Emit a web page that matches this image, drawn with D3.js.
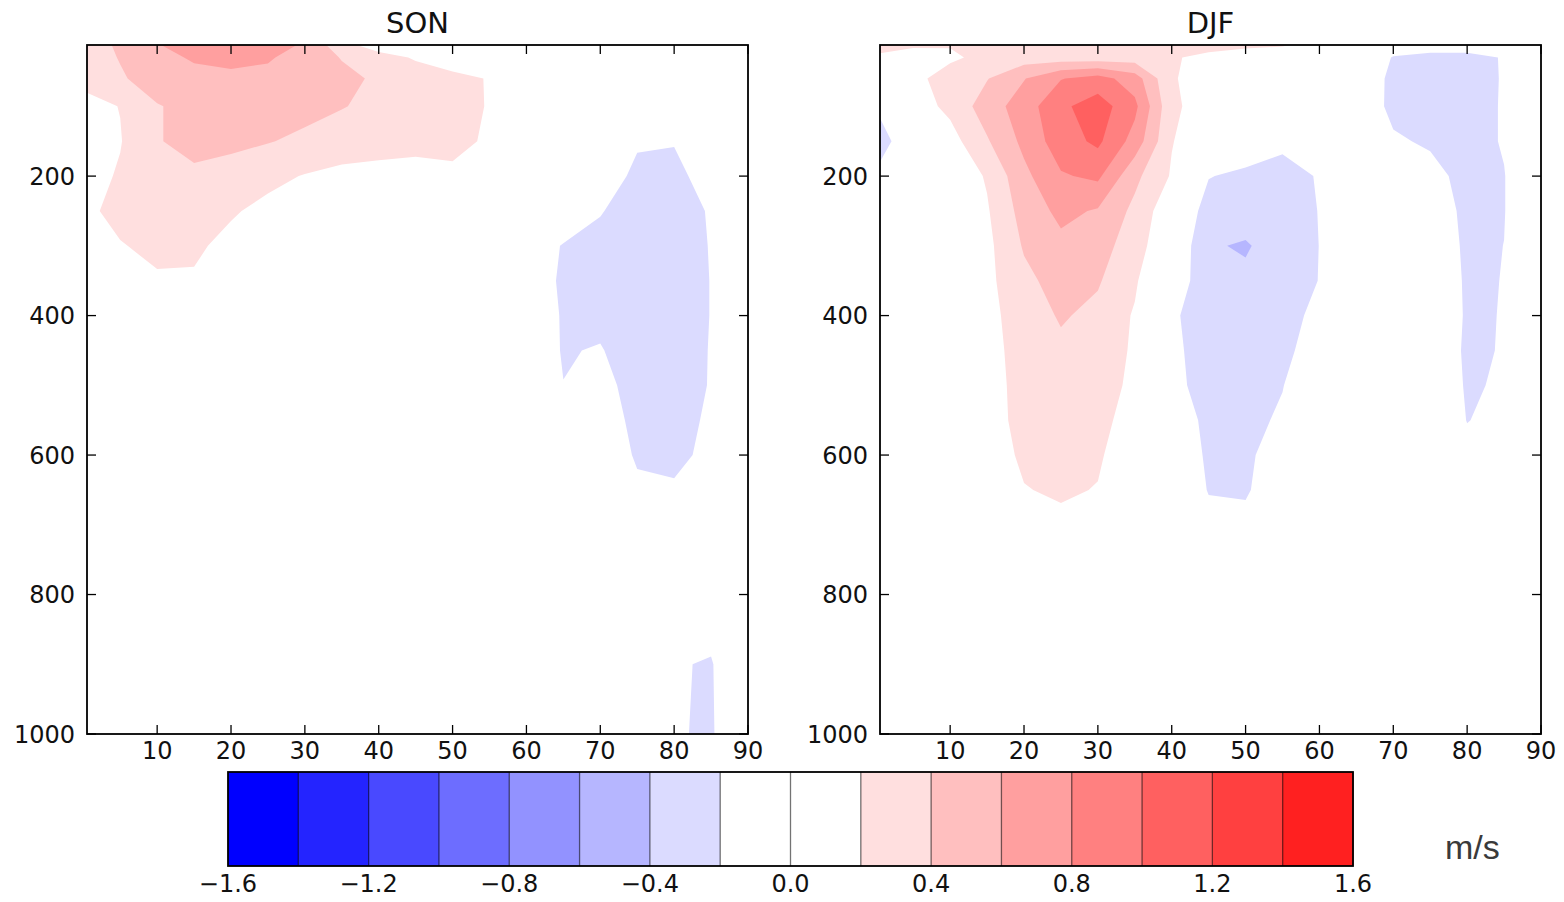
<!DOCTYPE html>
<html>
<head>
<meta charset="utf-8">
<script src="https://cdn.jsdelivr.net/npm/d3@7"></script>
<style>
  body { margin: 0; background: #ffffff; }
  svg { display: block; }
</style>
</head>
<body>
<svg id="chart" width="1564" height="902"></svg>
<script>
// ---------------- DATA ----------------
const latitudes = [0,5,10,15,20,25,30,35,40,45,50,55,60,65,70,75,80,85,90];
const pressureLevels = [12,30,60,100,150,200,250,300,350,400,450,500,550,600,650,700,800,900,1000];
const contourLevels = [-1.6,-1.4,-1.2,-1.0,-0.8,-0.6,-0.4,-0.2,0.0,0.2,0.4,0.6,0.8,1.0,1.2,1.4,1.6];
const xTickValues = [10,20,30,40,50,60,70,80,90];
const yTickValues = [200,400,600,800,1000];
const colorbarTicks = [-1.6,-1.2,-0.8,-0.4,0.0,0.4,0.8,1.2,1.6];
const panelTitles = ["SON", "DJF"];
const unitLabel = "m/s";

// rows = pressure levels (top to bottom), columns = latitudes 0..90
const sonWind = [
  [0.30,0.43,0.59,0.68,0.72,0.67,0.58,0.27,0.10,0.05,0.02,0,0,0,0,0,0,0,0],
  [0.30,0.41,0.52,0.63,0.66,0.62,0.52,0.39,0.28,0.18,0.10,0.05,0,0,0,0,0,0,0],
  [0.25,0.38,0.48,0.52,0.55,0.55,0.52,0.45,0.37,0.30,0.25,0.19,0.10,0.05,0,0,0,0,0],
  [0.14,0.205,0.39,0.45,0.48,0.48,0.46,0.41,0.35,0.30,0.26,0.19,0.08,0,-0.03,-0.05,-0.05,-0.02,0],
  [0.10,0.19,0.39,0.45,0.44,0.41,0.36,0.30,0.26,0.24,0.24,0.18,0.05,0,-0.05,-0.18,-0.19,-0.05,0],
  [0.12,0.22,0.33,0.37,0.33,0.25,0.19,0.15,0.15,0.15,0.17,0.12,0.05,-0.02,-0.10,-0.24,-0.25,-0.12,-0.02],
  [0.16,0.25,0.28,0.27,0.22,0.15,0.10,0.08,0.06,0.05,0.05,0.04,0,-0.08,-0.19,-0.28,-0.30,-0.18,-0.05],
  [0.12,0.19,0.24,0.23,0.15,0.08,0.05,0.03,0.02,0,0,-0.03,-0.10,-0.21,-0.25,-0.30,-0.30,-0.19,-0.05],
  [0.08,0.12,0.18,0.18,0.10,0.05,0.02,0,0,0,0,-0.03,-0.12,-0.22,-0.26,-0.30,-0.30,-0.195,-0.05],
  [0,0.03,0.10,0.08,0.03,0,0,0,0,0,0,-0.03,-0.12,-0.21,-0.24,-0.30,-0.30,-0.195,-0.05],
  [0,0,0,0,0,0,0,0,0,0,0,-0.03,-0.10,-0.21,-0.19,-0.28,-0.30,-0.19,-0.05],
  [0,0,0,0,0,0,0,0,0,0,0,-0.02,-0.08,-0.198,-0.15,-0.26,-0.28,-0.19,-0.05],
  [0,0,0,0,0,0,0,0,0,0,0,0,-0.03,-0.10,-0.10,-0.25,-0.27,-0.17,-0.04],
  [0,0,0,0,0,0,0,0,0,0,0,0,0,-0.05,-0.08,-0.22,-0.24,-0.16,-0.04],
  [0,0,0,0,0,0,0,0,0,0,0,0,0,0,-0.05,-0.17,-0.18,-0.10,-0.03],
  [0,0,0,0,0,0,0,0,0,0,0,0,0,0,0,-0.08,-0.10,-0.10,-0.03],
  [0,0,0,0,0,0,0,0,0,0,0,0,0,0,0,-0.03,-0.08,-0.12,-0.03],
  [0,0,0,0,0,0,0,0,0,0,0,0,0,0,0,-0.05,-0.19,-0.21,-0.05],
  [0,0,0,0,0,0,0,0,0,0,0,0,0,0,0,-0.05,-0.19,-0.215,-0.05]
];

const djfWind = [
  [0.25,0.23,0.21,0.25,0.30,0.33,0.34,0.33,0.30,0.27,0.24,0.22,0.12,0.02,-0.12,-0.12,-0.12,-0.08,0],
  [0.18,0.10,0.17,0.25,0.30,0.30,0.30,0.30,0.22,0.15,0.10,0.05,0,-0.05,-0.21,-0.25,-0.25,-0.19,-0.05],
  [0.05,0.15,0.28,0.39,0.59,0.79,0.88,0.70,0.21,0.15,0.08,0.03,0,-0.07,-0.24,-0.26,-0.26,-0.19,-0.05],
  [-0.19,0.10,0.25,0.50,0.70,0.96,1.10,0.85,0.24,0.10,0.05,0,0,-0.08,-0.24,-0.25,-0.25,-0.19,-0.05],
  [-0.27,-0.10,0.12,0.38,0.65,0.91,1.04,0.72,0.21,0.05,-0.05,-0.17,-0.12,-0.05,-0.18,-0.22,-0.25,-0.19,-0.05],
  [-0.18,-0.05,0.05,0.22,0.55,0.78,0.84,0.45,0.18,-0.19,-0.25,-0.25,-0.19,-0.05,-0.08,-0.15,-0.25,-0.205,-0.05],
  [-0.05,0,0.05,0.18,0.48,0.65,0.58,0.35,0.05,-0.30,-0.30,-0.28,-0.195,-0.05,-0.03,-0.10,-0.24,-0.205,-0.05],
  [0,0,0.02,0.15,0.42,0.55,0.48,0.30,0.0,-0.38,-0.42,-0.30,-0.198,-0.05,-0.02,-0.08,-0.23,-0.199,-0.05],
  [0,0,0.02,0.15,0.35,0.48,0.42,0.23,-0.10,-0.30,-0.36,-0.30,-0.195,-0.05,0,-0.08,-0.22,-0.197,-0.05],
  [0,0,0.02,0.14,0.30,0.42,0.35,0.18,-0.17,-0.30,-0.30,-0.27,-0.15,-0.03,0,-0.05,-0.22,-0.195,-0.05],
  [0,0,0.02,0.13,0.28,0.36,0.32,0.17,-0.16,-0.28,-0.28,-0.25,-0.10,-0.02,0,-0.05,-0.23,-0.19,-0.05],
  [0,0,0.02,0.12,0.27,0.33,0.30,0.15,-0.15,-0.27,-0.26,-0.205,-0.08,-0.02,0,-0.04,-0.22,-0.18,-0.05],
  [0,0,0.02,0.12,0.26,0.30,0.27,0.10,-0.10,-0.24,-0.24,-0.18,-0.05,0,0,-0.03,-0.205,-0.15,-0.04],
  [0,0,0.01,0.08,0.24,0.28,0.23,0.05,-0.05,-0.23,-0.23,-0.12,-0.03,0,0,0,-0.15,-0.10,-0.03],
  [0,0,0,0.05,0.19,0.23,0.19,0.02,-0.02,-0.21,-0.22,-0.08,0,0,0,0,-0.10,-0.05,-0.02],
  [0,0,0,0.03,0.10,0.15,0.10,0,0,-0.14,-0.15,-0.04,0,0,0,0,-0.05,-0.03,0],
  [0,0,0,0,0.05,0.06,0.04,0,0,-0.06,-0.05,0,0,0,0,0,0,0,0],
  [0,0,0,0,0,0,0,0,0,0,0,0,0,0,0,0,0,0,0],
  [0,0,0,0,0,0,0,0,0,0,0,0,0,0,0,0,0,0,0]
];

// ---------------- STYLE / LAYOUT ----------------
const axisFont = "'DejaVu Sans', sans-serif";
const plotTop = 45, plotBottom = 734;
const latDomain = [0.5, 90];
const panels = [
  { title: panelTitles[0], values: sonWind, x0: 87, x1: 748 },
  { title: panelTitles[1], values: djfWind, x0: 880, x1: 1541 }
];
const tickLen = 9;

function bandColor(k) {
  if (k <= 6) { const v = Math.round(255 * k / 7); return `rgb(${v},${v},255)`; }
  if (k <= 8) return "#ffffff";
  const j = k - 9; const v = Math.round(255 * (7 - j) / 8); return `rgb(255,${v},${v})`;
}
const fmt = v => (v < 0 ? "\u2212" : "") + Math.abs(v).toFixed(1);

const svg = d3.select("#chart");
svg.append("rect").attr("width", 1564).attr("height", 902).attr("fill", "#fff");
const defs = svg.append("defs");

const nx = latitudes.length, ny = pressureLevels.length;
const contourGen = d3.contours().size([nx, ny]).thresholds(contourLevels.slice(0, -1));
const latOf = d3.scaleLinear().domain(d3.range(nx)).range(latitudes);
const presOf = d3.scaleLinear().domain(d3.range(ny)).range(pressureLevels);

panels.forEach((p, pi) => {
  const x = d3.scaleLinear().domain(latDomain).range([p.x0, p.x1]);
  const y = d3.scaleLinear().domain([12, 1000]).range([plotTop, plotBottom]);

  defs.append("clipPath").attr("id", "clip" + pi)
    .append("rect").attr("x", p.x0).attr("y", plotTop)
    .attr("width", p.x1 - p.x0).attr("height", plotBottom - plotTop);

  const proj = d3.geoTransform({
    point(px, py) { this.stream.point(x(latOf(px - 0.5)), y(presOf(py - 0.5))); }
  });
  const path = d3.geoPath(proj);
  const flat = p.values.flat();
  const g = svg.append("g").attr("clip-path", `url(#clip${pi})`);
  contourGen(flat).forEach((c, k) => {
    g.append("path").attr("d", path(c)).attr("fill", bandColor(k)).attr("stroke", "none");
  });

  // frame
  svg.append("rect").attr("x", p.x0).attr("y", plotTop)
    .attr("width", p.x1 - p.x0).attr("height", plotBottom - plotTop)
    .attr("fill", "none").attr("stroke", "#000").attr("stroke-width", 1.8);

  const ax = svg.append("g").attr("stroke", "#000").attr("stroke-width", 1.3);
  xTickValues.forEach(t => {
    ax.append("line").attr("x1", x(t)).attr("x2", x(t)).attr("y1", plotBottom).attr("y2", plotBottom - tickLen);
    ax.append("line").attr("x1", x(t)).attr("x2", x(t)).attr("y1", plotTop).attr("y2", plotTop + tickLen);
  });
  yTickValues.forEach(t => {
    ax.append("line").attr("x1", p.x0).attr("x2", p.x0 + tickLen).attr("y1", y(t)).attr("y2", y(t));
    ax.append("line").attr("x1", p.x1).attr("x2", p.x1 - tickLen).attr("y1", y(t)).attr("y2", y(t));
  });

  const tx = svg.append("g").attr("font-family", axisFont).attr("font-size", 24).attr("fill", "#111");
  xTickValues.forEach(t => {
    tx.append("text").attr("x", x(t)).attr("y", 759).attr("text-anchor", "middle").text(t);
  });
  yTickValues.forEach(t => {
    tx.append("text").attr("x", p.x0 - 12).attr("y", y(t) + 8.7).attr("text-anchor", "end").text(t);
  });

  svg.append("text").attr("x", (p.x0 + p.x1) / 2).attr("y", 33)
    .attr("text-anchor", "middle").attr("font-family", axisFont).attr("font-size", 29)
    .attr("fill", "#111").text(p.title);
});

// ---------------- COLORBAR ----------------
const cbX = d3.scaleLinear().domain([contourLevels[0], contourLevels[contourLevels.length - 1]]).range([228, 1353]);
const cbTop = 772, cbBottom = 866;
const cb = svg.append("g");
contourLevels.slice(0, -1).forEach((lv, k) => {
  cb.append("rect").attr("x", cbX(lv)).attr("y", cbTop)
    .attr("width", cbX(contourLevels[k + 1]) - cbX(lv) + 0.5).attr("height", cbBottom - cbTop)
    .attr("fill", bandColor(k));
});
contourLevels.slice(1, -1).forEach(lv => {
  cb.append("line").attr("x1", cbX(lv)).attr("x2", cbX(lv)).attr("y1", cbTop).attr("y2", cbBottom)
    .attr("stroke", "#000").attr("stroke-opacity", 0.55).attr("stroke-width", 1.3);
});
cb.append("rect").attr("x", 228).attr("y", cbTop).attr("width", 1353 - 228).attr("height", cbBottom - cbTop)
  .attr("fill", "none").attr("stroke", "#000").attr("stroke-width", 1.8);
colorbarTicks.forEach(t => {
  cb.append("text").attr("x", cbX(t)).attr("y", 892).attr("text-anchor", "middle")
    .attr("font-family", axisFont).attr("font-size", 24).attr("fill", "#111").text(fmt(t));
});
svg.append("text").attr("x", 1445).attr("y", 859)
  .attr("font-family", "'Liberation Sans', Arial, sans-serif").attr("font-size", 34)
  .attr("fill", "#3a3a3a").text(unitLabel);
</script>
</body>
</html>
